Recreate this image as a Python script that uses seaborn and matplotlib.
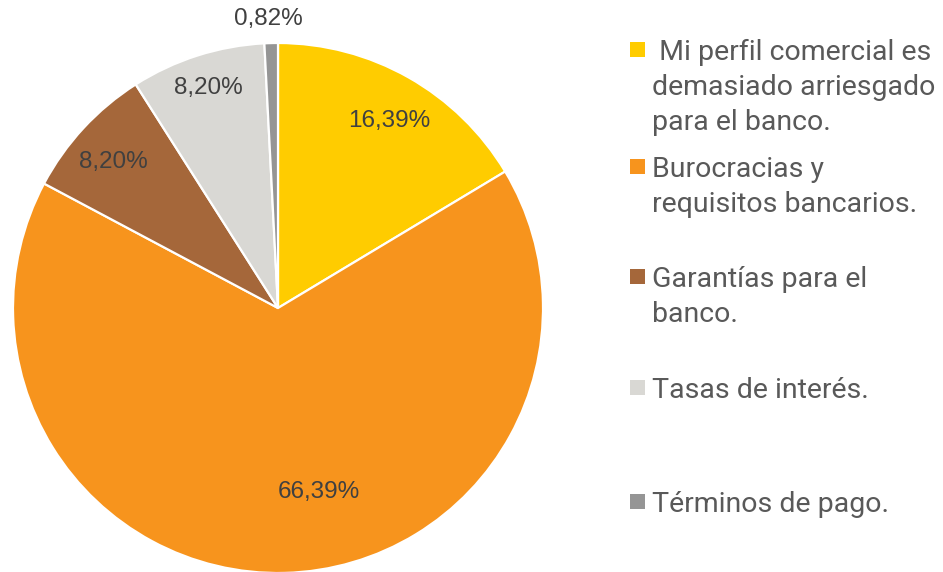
import matplotlib
matplotlib.use("Agg")

import matplotlib.pyplot as plt
import numpy as np
import seaborn as sns
from matplotlib.patches import Rectangle

categories = [
    " Mi perfil comercial es\ndemasiado arriesgado\npara el banco.",
    "Burocracias y\nrequisitos bancarios.",
    "Garantías para el\nbanco.",
    "Tasas de interés.",
    "Términos de pago.",
]
shares = [16.39, 66.39, 8.20, 8.20, 0.82]
pct_labels = ["16,39%", "66,39%", "8,20%", "8,20%", "0,82%"]
colors = ["#FFCC00", "#F7941D", "#A5673A", "#D9D8D4", "#959595"]

# label placement (radius, angle in degrees) in pie units
label_polar = [(0.82, 59.3), (0.71, -77.5), (0.83, 138.5), (0.87, 107.6), (1.09, 92.0)]
# legend first-line baselines in pixels from top
legend_base = [60, 177, 287, 398, 512]
line_step = 35

sns.set_theme(style="white")
plt.rcParams["font.family"] = ["Roboto", "DejaVu Sans"]

W, H = 943, 572
fig = plt.figure(figsize=(W / 100, H / 100), dpi=100)
cx, cy, r = 278, 308, 265
ax = fig.add_axes([(cx - r) / W, (H - cy - r) / H, 2 * r / W, 2 * r / H])
ax.pie(shares, colors=colors, startangle=90, counterclock=False,
       wedgeprops=dict(edgecolor="white", linewidth=1.6), radius=1.0)
ax.set_xlim(-1, 1)
ax.set_ylim(-1, 1)
ax.set_aspect("equal")
ax.axis("off")

for lab, (rr, ang) in zip(pct_labels, label_polar):
    t = np.deg2rad(ang)
    ax.text(rr * np.cos(t), rr * np.sin(t), lab, ha="center", va="center",
            fontsize=17.5, color="#404040", clip_on=False,
            family=["Liberation Sans", "DejaVu Sans"])

for cat, col, base in zip(categories, colors, legend_base):
    fig.patches.append(Rectangle((630 / W, (H - base + 3) / H), 15 / W, 15 / H,
                                 transform=fig.transFigure, facecolor=col,
                                 edgecolor="none"))
    for i, line in enumerate(cat.split("\n")):
        fig.text(652 / W, (H - base - i * line_step) / H, line, ha="left",
                 va="baseline", fontsize=20.5, color="#595959")

fig.savefig("out.png", dpi=100, facecolor="white")
